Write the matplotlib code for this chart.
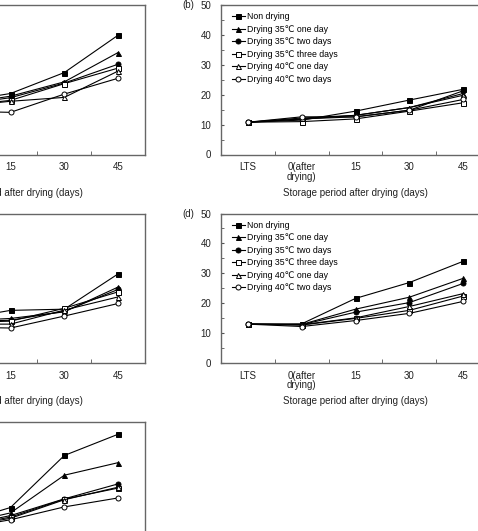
import matplotlib
matplotlib.use('Agg')
import matplotlib.pyplot as plt
from matplotlib.ticker import MultipleLocator, FixedLocator

plt.rcParams['font.family'] = ['Liberation Sans', 'DejaVu Sans']

# categories on the x axis
categories = ['LTS', '0(after\ndrying)', '15', '30', '45']

series_names = ['Non drying', 'Drying 35℃ one day', 'Drying 35℃ two days',
                'Drying 35℃ three days', 'Drying 40℃ one day', 'Drying 40℃ two days']

# panel (a) - only right part visible
a_non = [15.0, 17.5, 20.4, 27.4, 39.9]
a_35one = [15.0, 16.8, 19.5, 24.3, 34.1]
a_35two = [15.0, 16.5, 19.0, 23.9, 30.2]
a_35three = [15.0, 16.2, 18.1, 23.7, 28.9]
a_40one = [15.0, 16.0, 17.8, 19.1, 27.9]
a_40two = [15.0, 14.5, 14.1, 20.2, 25.5]

# panel (b)
b_non = [10.8, 11.5, 14.5, 18.2, 21.8]
b_35one = [10.8, 11.8, 13.1, 15.7, 20.4]
b_35two = [10.8, 11.9, 12.6, 14.8, 21.3]
b_35three = [10.8, 11.0, 11.9, 14.5, 17.3]
b_40one = [10.8, 12.2, 13.1, 15.7, 19.8]
b_40two = [10.8, 12.6, 12.6, 14.8, 18.4]

# panel (c)
c_non = [13.0, 14.5, 17.6, 18.0, 29.8]
c_35one = [13.0, 14.0, 14.9, 17.1, 25.4]
c_35two = [13.0, 13.8, 14.3, 17.3, 24.6]
c_35three = [13.0, 13.5, 14.0, 18.3, 23.8]
c_40one = [13.0, 13.0, 13.0, 17.7, 22.1]
c_40two = [13.0, 12.0, 11.7, 15.7, 19.9]

# panel (d)
d_non = [13.0, 13.1, 21.6, 26.9, 34.0]
d_35one = [13.0, 12.9, 18.0, 22.0, 28.3]
d_35two = [13.0, 12.8, 17.0, 20.2, 26.6]
d_35three = [13.0, 12.7, 14.9, 17.6, 22.4]
d_40one = [13.0, 12.8, 15.1, 18.9, 23.2]
d_40two = [13.0, 12.2, 14.2, 16.6, 20.6]

# panel (e)
e_non = [14.0, 16.0, 21.4, 38.8, 45.9]
e_35one = [14.0, 15.5, 19.6, 32.2, 36.4]
e_35two = [14.0, 15.0, 18.7, 24.3, 29.3]
e_35three = [14.0, 14.8, 18.2, 24.2, 27.9]
e_40one = [14.0, 14.6, 17.8, 24.0, 28.2]
e_40two = [14.0, 14.2, 17.3, 21.6, 24.6]

markers = [('s', 'black'), ('^', 'black'), ('o', 'black'),
           ('s', 'white'), ('^', 'white'), ('o', 'white')]

W, H = 478, 531
fig = plt.figure(figsize=(W / 100, H / 100), dpi=100)


def px_axes(left, top, width=269, height=149.5):
    return fig.add_axes([left / W, 1 - (top + height) / H, width / W, height / H])


def draw_panel(ax, data, label, legend=False):
    x = list(range(len(categories)))
    for vals, name, (m, fc) in zip(data, series_names, markers):
        ax.plot(x, vals, color='black', lw=0.8, marker=m, ms=3.6,
                mfc=fc, mec='black', mew=0.7, label=name)
    ax.set_xlim(-0.5, 4.5)
    ax.set_ylim(0, 50)
    ax.xaxis.set_major_locator(FixedLocator(x))
    ax.set_xticklabels(categories, fontsize=7, color='#222222', linespacing=0.95)
    ax.xaxis.set_minor_locator(FixedLocator([0.5, 1.5, 2.5, 3.5]))
    ax.tick_params(axis='x', which='major', length=0, pad=5.5)
    ax.tick_params(axis='x', which='minor', direction='in', length=3, color='#555555')
    ax.yaxis.set_major_locator(MultipleLocator(10))
    ax.yaxis.set_minor_locator(MultipleLocator(5))
    ax.tick_params(axis='y', which='both', direction='in', length=2.5,
                   color='#555555', labelsize=7, labelcolor='#222222', pad=7)
    for s in ax.spines.values():
        s.set_color('#666666')
        s.set_linewidth(1.0)
    ax.set_xlabel('Storage period after drying (days)', fontsize=7,
                  color='#222222', labelpad=4.5)
    ax.text(-0.12, 1.0, label, transform=ax.transAxes, fontsize=7,
            color='#222222', ha='center', va='center')
    if legend:
        ax.legend(loc='upper left', bbox_to_anchor=(0.02, 0.985), frameon=False,
                  fontsize=6.3, handlelength=1.5, handletextpad=0.3,
                  labelspacing=0.4, borderaxespad=0.2)


ax_a = px_axes(-124, 5)
draw_panel(ax_a, [a_non, a_35one, a_35two, a_35three, a_40one, a_40two], '(a)')
ax_b = px_axes(221, 5)
draw_panel(ax_b, [b_non, b_35one, b_35two, b_35three, b_40one, b_40two], '(b)', legend=True)
ax_c = px_axes(-124, 213.5)
draw_panel(ax_c, [c_non, c_35one, c_35two, c_35three, c_40one, c_40two], '(c)')
ax_d = px_axes(221, 213.5)
draw_panel(ax_d, [d_non, d_35one, d_35two, d_35three, d_40one, d_40two], '(d)', legend=True)
ax_e = px_axes(-124, 422)
draw_panel(ax_e, [e_non, e_35one, e_35two, e_35three, e_40one, e_40two], '(e)')

fig.savefig('out.png', dpi=100)
